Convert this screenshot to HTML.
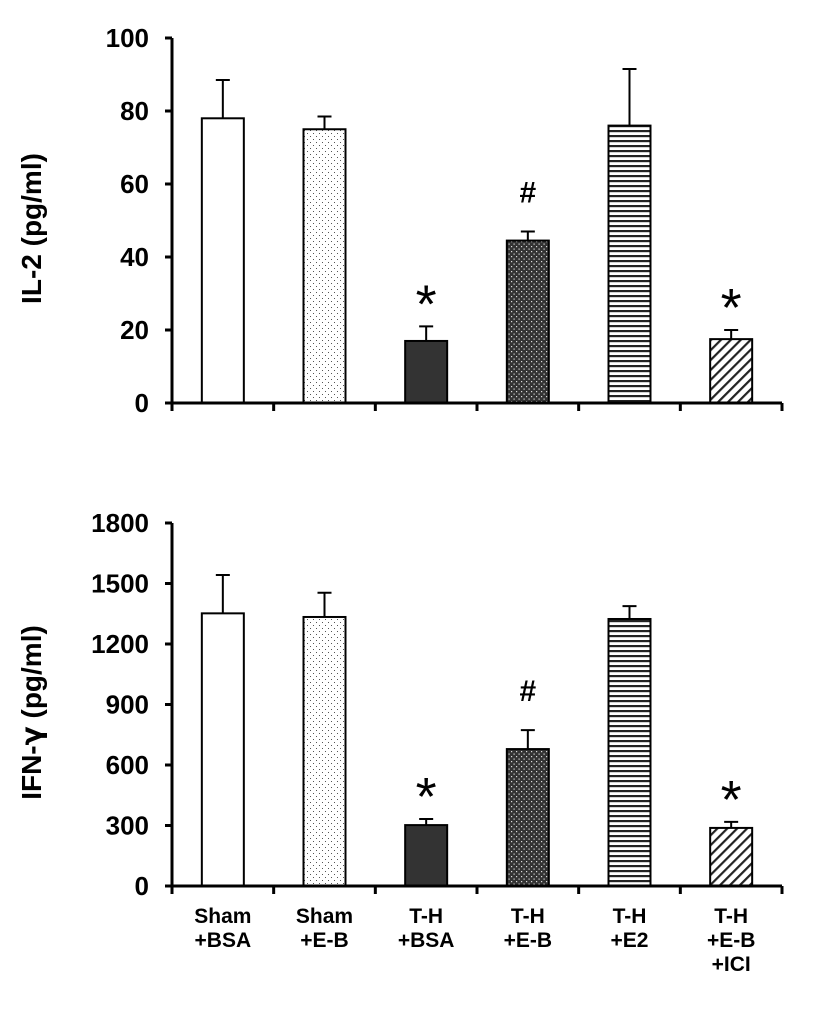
<!DOCTYPE html>
<html><head><meta charset="utf-8"><style>
html,body{margin:0;padding:0;background:#fff;}
svg{display:block;font-family:"Liberation Sans",Arial,sans-serif;}
</style></head><body>
<svg id="chart" width="822" height="1014" viewBox="0 0 822 1014" xmlns="http://www.w3.org/2000/svg">
<defs>
<pattern id="p1" patternUnits="userSpaceOnUse" width="6" height="6"><rect width="6" height="6" fill="#fff"/><rect x="1" y="1" width="1" height="1" fill="#555"/><rect x="4" y="4" width="1" height="1" fill="#555"/></pattern>
<pattern id="p3" patternUnits="userSpaceOnUse" width="5" height="5"><rect width="5" height="5" fill="#333"/><rect x="1" y="1" width="1.2" height="1.2" fill="#ddd"/><rect x="3.5" y="3.5" width="1.2" height="1.2" fill="#ddd"/></pattern>
<pattern id="p4" patternUnits="userSpaceOnUse" width="6" height="5"><rect width="6" height="5" fill="#fff"/><rect y="0" width="6" height="2.2" fill="#222"/></pattern>
<pattern id="p5" patternUnits="userSpaceOnUse" width="7" height="7" patternTransform="rotate(45)"><rect width="7" height="7" fill="#fff"/><rect width="2.2" height="7" fill="#222"/></pattern>
</defs>
<g id="g"></g>
</svg>
<script>
const categories1 = ["Sham|+BSA","Sham|+E-B","T-H|+BSA","T-H|+E-B","T-H|+E2","T-H|+E-B|+ICI"];
const il2Values = [78, 75, 17, 44.5, 76, 17.5];
const il2Errors = [10.5, 3.5, 4, 2.5, 15.5, 2.5];
const il2Marks = ["", "", "*", "#", "", "*"];
const il2Ticks = [0, 20, 40, 60, 80, 100];
const ifnValues = [1352, 1334, 302, 679, 1324, 288];
const ifnErrors = [190, 120, 30, 94, 64, 30];
const ifnMarks = ["", "", "*", "#", "", "*"];
const ifnTicks = [0, 300, 600, 900, 1200, 1500, 1800];
const fills = ["#fff","url(#p1)","#333","url(#p3)","url(#p4)","url(#p5)"];

const NS="http://www.w3.org/2000/svg";
const g=document.getElementById('g');
function mk(tag,attrs,parent){const e=document.createElementNS(NS,tag);for(const k in attrs)e.setAttribute(k,attrs[k]);(parent||g).appendChild(e);return e;}
const x0=172,x1=782,n=categories1.length,gw=(x1-x0)/n,bw=42;
function xc(i){return x0+(i+0.5)*gw;}

function panel(values,errors,marks,ticks,y0,yTop,label,name){
  const max=ticks[ticks.length-1];
  const y=v=>y0-(v/max)*(y0-yTop);
  const grp=mk('g',{});
  
  
  values.forEach((v,i)=>{
    const cx=xc(i), top=y(v+errors[i]);
    const eb=mk('path',{d:`M${cx} ${y(v)}V${top}M${cx-7} ${top}H${cx+7}`,stroke:'#000','stroke-width':2,fill:'none'},grp);
    
    
    const r=mk('rect',{x:cx-bw/2,y:y(v),width:bw,height:y0-y(v),fill:fills[i],stroke:'#000','stroke-width':2},grp);
    
    
    if(marks[i]){
      const star=marks[i]==='*';
      const t=mk('text',{x:cx,y:star?top-4:top-29,'text-anchor':'middle','font-size':star?54:30,'font-weight':star?'normal':'bold'},grp);
      t.textContent=marks[i];
      
      
    }
  });
  const ax=mk('path',{d:`M${x0} ${yTop}V${y0}H${x1}`,stroke:'#000','stroke-width':3,fill:'none'},grp);
  
  
  ticks.forEach(t=>{
    mk('path',{d:`M${x0-7} ${y(t)}H${x0}`,stroke:'#000','stroke-width':3},grp);
    const tl=mk('text',{x:149,y:y(t)+9,'text-anchor':'end','font-size':26,'font-weight':'bold'},grp);
    tl.textContent=t;
    
    
  });
  for(let i=0;i<=n;i++) mk('path',{d:`M${x0+i*gw} ${y0}V${y0+8}`,stroke:'#000','stroke-width':3},grp);
  const cy=(y0+yTop)/2+8;
  const yl=mk('text',{x:0,y:0,transform:`translate(41 ${cy}) rotate(-90)`,'text-anchor':'middle','font-size':28,'font-weight':'bold'},grp);
  yl.innerHTML=label;
  
  
}
panel(il2Values,il2Errors,il2Marks,il2Ticks,403,38,'IL-2 (pg/ml)','il2-panel');
panel(ifnValues,ifnErrors,ifnMarks,ifnTicks,886,523,'IFN-<tspan font-family="DejaVu Sans">γ</tspan> (pg/ml)','ifn-panel');
categories1.forEach((c,i)=>{
  c.split('|').forEach((line,j)=>{
    const t=mk('text',{x:xc(i),y:923+j*24,'text-anchor':'middle','font-size':21,'font-weight':'bold'});
    t.textContent=line;
    
    
  });
});
</script>
</body></html>
